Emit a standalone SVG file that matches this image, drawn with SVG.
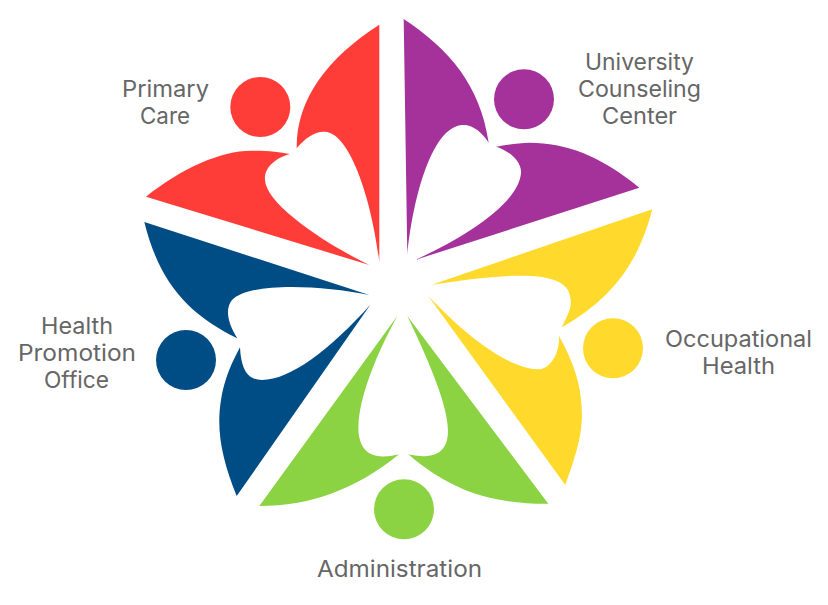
<svg xmlns="http://www.w3.org/2000/svg" width="828" height="605" viewBox="0 0 828 605">
<style>
text{font-family:"Inter","Liberation Sans",sans-serif;font-size:22.5px;fill:#666;text-anchor:middle}
.red{fill:#FF3D38}.purple{fill:#A5329B}.yellow{fill:#FFD92B}.green{fill:#8BD342}.blue{fill:#004C84}
</style>
<rect width="828" height="605" fill="#fff"/>
<g id="primary-care" class="red">
<path d="M379.3 24.7C327 58 296 100 296.7 148.3C305 138 315 131 325 131.7C350 133 372 200 379.3 261.7Z"/>
<path d="M146 196.7C182 168 222 150 253 150.7C268 150.5 280 152 290 154C275 158 264 168 265 180C266 205 328 245 369.3 265Z"/>
<circle cx="260.3" cy="107" r="30"/>
<text x="165.5" y="97" textLength="87" lengthAdjust="spacingAndGlyphs">Primary</text>
<text x="165" y="124" textLength="50" lengthAdjust="spacingAndGlyphs">Care</text>
</g>
<g id="university-counseling-center" class="purple">
<path d="M403.7 19C450 50 480 85 488.7 142.7C482 132 472 124 461.7 125C430 128 412 205 407.3 255Z"/>
<path d="M639.3 187.7C600 155 565 143 530 142.7C518 143 505 145 496 146.7C510 151 522 162 521 173.3C518 205 460 240 415 260Z"/>
<circle cx="524" cy="99.3" r="30"/>
<text x="639.5" y="70" textLength="109" lengthAdjust="spacingAndGlyphs">University</text>
<text x="639.5" y="97" textLength="123" lengthAdjust="spacingAndGlyphs">Counseling</text>
<text x="639.5" y="124" textLength="75" lengthAdjust="spacingAndGlyphs">Center</text>
</g>
<g id="occupational-health" class="yellow">
<path d="M652.3 209.3C638 265 610 300 561.7 327.3C567 316 573 308 570 296C565 268 505 274 431.7 284.7Z"/>
<path d="M428.3 296L565.3 485C580 445 584 425 581 400C579 375 568 352 559 336C560 350 552 370 536.7 369.3C510 368 470 340 428.3 296Z"/>
<circle cx="613" cy="348.3" r="30"/>
<text x="738.5" y="347" textLength="147" lengthAdjust="spacingAndGlyphs">Occupational</text>
<text x="738.5" y="374" textLength="73" lengthAdjust="spacingAndGlyphs">Health</text>
</g>
<g id="administration" class="green">
<path d="M397.3 316L259.3 506C310 506 355 490 399 454.3C388 457 366 461 360 440C354 420 365 375 397.3 316Z"/>
<path d="M407.3 316L548.3 503.7C490 504 450 490 408.3 454.3C420 457 442 460 447 440C452 420 438 380 407.3 316Z"/>
<circle cx="404" cy="509.3" r="30"/>
<text x="399.5" y="577" textLength="165" lengthAdjust="spacingAndGlyphs">Administration</text>
</g>
<g id="health-promotion-office" class="blue">
<path d="M144.3 222L369.3 295C320 285 250 282 232 300C224 310 229 325 237.3 338.3C190 315 160 285 144.3 222Z"/>
<path d="M370.7 304.3L236.7 496C222 460 216 430 221 400C224 380 232 362 240 347.3C241 365 245 380 262 380C290 380 330 350 370.7 304.3Z"/>
<circle cx="186" cy="360" r="30"/>
<text x="77" y="334" textLength="72" lengthAdjust="spacingAndGlyphs">Health</text>
<text x="77" y="361" textLength="118" lengthAdjust="spacingAndGlyphs">Promotion</text>
<text x="76.5" y="388" textLength="65" lengthAdjust="spacingAndGlyphs">Office</text>
</g>
</svg>
